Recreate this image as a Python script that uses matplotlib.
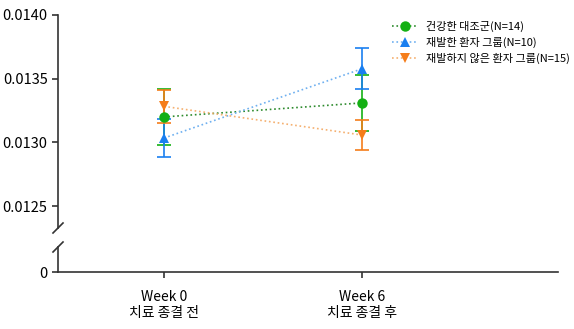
import numpy as np
import matplotlib.pyplot as plt
from matplotlib.lines import Line2D

plt.rcParams['font.family'] = ['Noto Sans CJK KR', 'DejaVu Sans']

weeks = ['Week 0\n치료 종결 전', 'Week 6\n치료 종결 후']
groups = ['건강한 대조군(N=14)', '재발한 환자 그룹(N=10)', '재발하지 않은 환자 그룹(N=15)']
means = [
    [0.01320, 0.01331],
    [0.013034, 0.013578],
    [0.013283, 0.013058],
]
errors = [
    [0.00022, 0.00022],
    [0.00015, 0.00016],
    [0.00013, 0.00012],
]
colors = ['#14b014', '#1a7ff0', '#f57d1a']
line_colors = ['#2e8b2e', '#6fb0f0', '#f5b070']
markers = ['o', '^', 'v']

W, H = 574, 329
fig = plt.figure(figsize=(W / 100, H / 100), dpi=100)

def px_axes(x0, y0, x1, y1):
    return fig.add_axes([x0 / W, 1 - y1 / H, (x1 - x0) / W, (y1 - y0) / H])

ax = px_axes(58, 15, 558, 228)
ax_low = px_axes(58, 247, 558, 272)

x = np.arange(len(weeks))
xlim = (-106 / 198, 394 / 198)

for m, e, c, lc, mk, g in zip(means, errors, colors, line_colors, markers, groups):
    ax.plot(x, m, linestyle=':', color=lc, linewidth=1.2, zorder=2)
    ax.errorbar(x, m, yerr=e, fmt='none', ecolor=c, elinewidth=1.2,
                capsize=5, capthick=1.2, zorder=3)
    ax.plot(x, m, linestyle='none', marker=mk, markersize=7.5, color=c,
            markeredgewidth=0, zorder=4, label=g)

ax.set_xlim(xlim)
ax.set_ylim(0.0140 - 213 / 63.7 * 0.0005, 0.0140)
ax.set_yticks([0.0125, 0.0130, 0.0135, 0.0140])
ax.set_yticklabels(['0.0125', '0.0130', '0.0135', '0.0140'])
ax.set_xticks([])
for s in ['top', 'right', 'bottom']:
    ax.spines[s].set_visible(False)
ax.spines['left'].set_color('#333333')
ax.spines['left'].set_linewidth(1.2)
ax.tick_params(axis='y', labelsize=10.5, color='#333333', length=4, width=1.2)

ax_low.set_xlim(xlim)
ax_low.set_ylim(0, 1)
ax_low.set_yticks([0])
ax_low.set_xticks(x)
ax_low.set_xticklabels(weeks)
for s in ['top', 'right']:
    ax_low.spines[s].set_visible(False)
for s in ['left', 'bottom']:
    ax_low.spines[s].set_color('#333333')
    ax_low.spines[s].set_linewidth(1.2)
ax_low.tick_params(axis='y', labelsize=10.5, color='#333333', length=4, width=1.2)
ax_low.tick_params(axis='x', labelsize=10, color='#333333', length=4, width=1.2, pad=9)

# axis break marks on the left spine
for yb in [228, 247]:
    fig.add_artist(Line2D([53 / W, 63 / W], [1 - (yb + 5) / H, 1 - (yb - 5) / H],
                          color='#333333', linewidth=1.2))

handles = [Line2D([0], [0], linestyle=':', color=lc, marker=mk, markersize=7.5,
                  markerfacecolor=c, markeredgewidth=0, linewidth=1.2)
           for c, lc, mk in zip(colors, line_colors, markers)]
fig.legend(handles, groups, loc='upper left', bbox_to_anchor=(388 / W, 1 - 16 / H),
           frameon=False, fontsize=8, handlelength=2.2, labelspacing=0.45,
           handletextpad=0.8, borderaxespad=0)

fig.savefig('out.png', dpi=100)
